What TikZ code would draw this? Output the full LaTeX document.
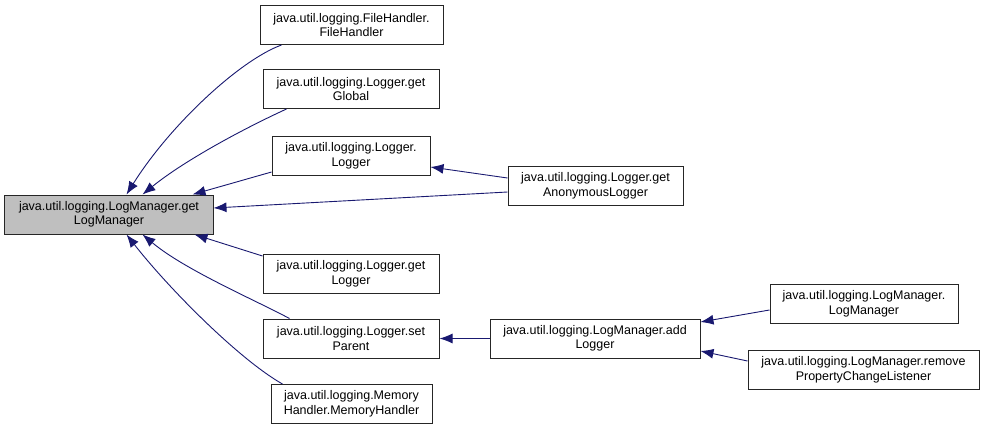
\documentclass[tikz,border=0pt]{standalone}
\usepackage{fontspec}
\setmainfont{Liberation Sans}
\usetikzlibrary{arrows.meta}
\definecolor{edgeblue}{RGB}{25,25,112}
\definecolor{maingray}{RGB}{191,191,191}
\begin{document}
\begin{tikzpicture}[x=1bp,y=-1bp,
 box/.style={draw=black!85, line width=1bp, fill=white, align=center, inner sep=0pt, minimum height=39bp, font=\fontsize{12.5bp}{14.5bp}\selectfont},
 edge/.style={draw=edgeblue, line width=0.9bp, -{Latex[length=13bp,width=10bp]}},
]
\useasboundingbox (0,0) rectangle (985,431);
\node[box, fill=maingray, minimum width=208bp] (main) at (109,214.5) {java.util.logging.LogManager.get\\LogManager};
\node[box, minimum width=183bp] (fh) at (351.5,25) {java.util.logging.FileHandler.\\FileHandler};
\node[box, minimum width=176bp] (gg) at (351,89) {java.util.logging.Logger.get\\Global};
\node[box, minimum width=158bp] (ll) at (351,156) {java.util.logging.Logger.\\Logger};
\node[box, minimum width=175bp] (ga) at (595.5,186) {java.util.logging.Logger.get\\AnonymousLogger};
\node[box, minimum width=176bp] (gl) at (351,274) {java.util.logging.Logger.get\\Logger};
\node[box, minimum width=176bp] (sp) at (351,338.5) {java.util.logging.Logger.set\\Parent};
\node[box, minimum width=210bp] (al) at (595,338.5) {java.util.logging.LogManager.add\\Logger};
\node[box, minimum width=161bp] (mh) at (351.5,404) {java.util.logging.Memory\\Handler.MemoryHandler};
\node[box, minimum width=188bp] (lm) at (864,304) {java.util.logging.LogManager.\\LogManager};
\node[box, minimum width=231bp] (rp) at (863.5,370) {java.util.logging.LogManager.remove\\PropertyChangeListener};

\draw[edge] ([xshift=22bp]fh.south west) .. controls (240,60) and (170,125) .. ([xshift=122bp]main.north west);
\draw[edge] ([xshift=24bp]gg.south west) .. controls (245,128) and (185,160) .. ([xshift=138bp]main.north west);
\draw[edge] ([yshift=4bp]ll.south west) -- ([xshift=188bp]main.north west);
\draw[edge] ([yshift=-6bp]ga.west) -- ([yshift=6.5bp]main.east);
\draw[edge] ([yshift=8bp]ga.west) -- ([yshift=-11bp]ll.east);
\draw[edge] ([yshift=-2bp]gl.north west) -- ([xshift=190bp]main.south west);
\draw[edge] ([xshift=27bp]sp.north west) .. controls (255,300) and (185,270) .. ([xshift=138bp]main.south west);
\draw[edge] ([xshift=12bp]mh.north west) .. controls (240,360) and (170,290) .. ([xshift=122bp]main.south west);
\draw[edge] (al.west) -- (sp.east);
\draw[edge] ([yshift=-6bp]lm.west) -- ([yshift=16.5bp]al.east);
\draw[edge] ([yshift=9bp]rp.west) -- ([yshift=-12.5bp]al.east);
\end{tikzpicture}
\end{document}
